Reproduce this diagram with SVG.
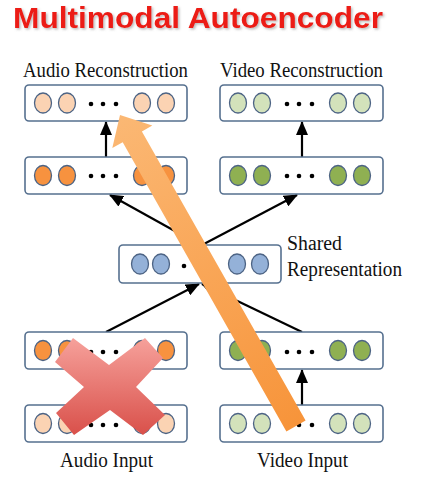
<svg xmlns="http://www.w3.org/2000/svg" width="429" height="487" viewBox="0 0 429 487">
<defs>
<style>
.box{fill:#ffffff;stroke:#56708f;stroke-width:1.6}
.n{stroke:#4c6384;stroke-width:1.3}
.ap{fill:#fbd3b3}
.ah{fill:#f7923f}
.vp{fill:#d3e2bb}
.vh{fill:#8fb052}
.sh{fill:#94b1d8}
.dot{fill:#000}
.lbl{font-family:"Liberation Serif","Times New Roman",serif;font-size:20px;fill:#111}
.edge{stroke:#000;stroke-width:2.2;fill:none;marker-end:url(#ah)}
</style>
<filter id="shadow" x="-5%" y="-30%" width="110%" height="160%">
<feDropShadow dx="1.5" dy="1.5" stdDeviation="1" flood-color="#777" flood-opacity="0.5"/>
</filter>
<marker id="ah" viewBox="0 0 14 12" refX="13" refY="6" markerWidth="14" markerHeight="12" markerUnits="userSpaceOnUse" orient="auto">
<path d="M0,0 L14,6 L0,12 Z" fill="#000"/>
</marker>
<linearGradient id="og" gradientUnits="userSpaceOnUse" x1="120" y1="115" x2="296" y2="426">
<stop offset="0" stop-color="#fbb874"/>
<stop offset="1" stop-color="#f7943a"/>
</linearGradient>
<linearGradient id="rg" x1="0" y1="0" x2="0" y2="1">
<stop offset="0" stop-color="#f6a19b"/>
<stop offset="1" stop-color="#d9504a"/>
</linearGradient>
</defs>
<rect width="429" height="487" fill="#ffffff"/>

<g id="title">
<text x="13" y="28" filter="url(#shadow)" font-family="Liberation Sans, Arial, sans-serif" font-weight="bold" font-size="30" fill="#ec1c12" textLength="370" lengthAdjust="spacingAndGlyphs">Multimodal Autoencoder</text>
</g>

<g id="connectors">
<line class="edge" x1="106" y1="157" x2="106" y2="122"/>
<line class="edge" x1="302" y1="157" x2="302" y2="122"/>
<line class="edge" x1="200" y1="245" x2="110" y2="195"/>
<line class="edge" x1="202" y1="245" x2="297" y2="195"/>
<line class="edge" x1="106" y1="332" x2="199" y2="284"/>
<line class="edge" x1="302" y1="332" x2="202" y2="284"/>
<line class="edge" x1="106" y1="405" x2="106" y2="370"/>
<line class="edge" x1="302" y1="405" x2="302" y2="370"/>
</g>

<g id="audio-reconstruction">
<text class="lbl" x="23" y="77" textLength="165" lengthAdjust="spacingAndGlyphs">Audio Reconstruction</text>
<rect class="box" x="25" y="85" width="162" height="36" rx="4"/>
<ellipse class="n ap" cx="43" cy="103" rx="8.5" ry="10"/>
<ellipse class="n ap" cx="67" cy="103" rx="8.5" ry="10"/>
<circle class="dot" cx="91" cy="104" r="2.3"/><circle class="dot" cx="103" cy="104" r="2.3"/><circle class="dot" cx="116" cy="104" r="2.3"/>
<ellipse class="n ap" cx="142" cy="103" rx="8.5" ry="10"/>
<ellipse class="n ap" cx="166" cy="103" rx="8.5" ry="10"/>
</g>

<g id="video-reconstruction">
<text class="lbl" x="220" y="77" textLength="163" lengthAdjust="spacingAndGlyphs">Video Reconstruction</text>
<rect class="box" x="220" y="85" width="163" height="36" rx="4"/>
<ellipse class="n vp" cx="238" cy="103" rx="8.5" ry="10"/>
<ellipse class="n vp" cx="262" cy="103" rx="8.5" ry="10"/>
<circle class="dot" cx="287" cy="104" r="2.3"/><circle class="dot" cx="299" cy="104" r="2.3"/><circle class="dot" cx="312" cy="104" r="2.3"/>
<ellipse class="n vp" cx="338" cy="103" rx="8.5" ry="10"/>
<ellipse class="n vp" cx="362" cy="103" rx="8.5" ry="10"/>
</g>

<g id="audio-hidden">
<rect class="box" x="25" y="157" width="162" height="37" rx="4"/>
<ellipse class="n ah" cx="43" cy="175.5" rx="8.5" ry="10"/>
<ellipse class="n ah" cx="67" cy="175.5" rx="8.5" ry="10"/>
<circle class="dot" cx="91" cy="176" r="2.3"/><circle class="dot" cx="103" cy="176" r="2.3"/><circle class="dot" cx="116" cy="176" r="2.3"/>
<ellipse class="n ah" cx="142" cy="175.5" rx="8.5" ry="10"/>
<ellipse class="n ah" cx="166" cy="175.5" rx="8.5" ry="10"/>
</g>

<g id="video-hidden">
<rect class="box" x="220" y="157" width="163" height="37" rx="4"/>
<ellipse class="n vh" cx="238" cy="175.5" rx="8.5" ry="10"/>
<ellipse class="n vh" cx="262" cy="175.5" rx="8.5" ry="10"/>
<circle class="dot" cx="287" cy="176" r="2.3"/><circle class="dot" cx="299" cy="176" r="2.3"/><circle class="dot" cx="312" cy="176" r="2.3"/>
<ellipse class="n vh" cx="338" cy="175.5" rx="8.5" ry="10"/>
<ellipse class="n vh" cx="362" cy="175.5" rx="8.5" ry="10"/>
</g>

<g id="shared">
<rect class="box" x="119" y="245" width="162" height="38" rx="4"/>
<ellipse class="n sh" cx="140" cy="264" rx="8.5" ry="10"/>
<ellipse class="n sh" cx="161" cy="264" rx="8.5" ry="10"/>
<circle class="dot" cx="184" cy="266" r="2.3"/><circle class="dot" cx="196" cy="266" r="2.3"/><circle class="dot" cx="209" cy="266" r="2.3"/>
<ellipse class="n sh" cx="237" cy="264" rx="8.5" ry="10"/>
<ellipse class="n sh" cx="260" cy="264" rx="8.5" ry="10"/>
<text class="lbl" x="287" y="250" textLength="55" lengthAdjust="spacingAndGlyphs">Shared</text>
<text class="lbl" x="287" y="276" textLength="115" lengthAdjust="spacingAndGlyphs">Representation</text>
</g>

<g id="audio-hidden-in">
<rect class="box" x="25" y="332" width="162" height="37" rx="4"/>
<ellipse class="n ah" cx="43" cy="350.5" rx="8.5" ry="10"/>
<ellipse class="n ah" cx="67" cy="350.5" rx="8.5" ry="10"/>
<circle class="dot" cx="91" cy="352" r="2.3"/><circle class="dot" cx="103" cy="352" r="2.3"/><circle class="dot" cx="116" cy="352" r="2.3"/>
<ellipse class="n ah" cx="142" cy="350.5" rx="8.5" ry="10"/>
<ellipse class="n ah" cx="166" cy="350.5" rx="8.5" ry="10"/>
</g>

<g id="video-hidden-in">
<rect class="box" x="220" y="332" width="163" height="37" rx="4"/>
<ellipse class="n vh" cx="238" cy="350.5" rx="8.5" ry="10"/>
<ellipse class="n vh" cx="262" cy="350.5" rx="8.5" ry="10"/>
<circle class="dot" cx="287" cy="352" r="2.3"/><circle class="dot" cx="299" cy="352" r="2.3"/><circle class="dot" cx="312" cy="352" r="2.3"/>
<ellipse class="n vh" cx="338" cy="350.5" rx="8.5" ry="10"/>
<ellipse class="n vh" cx="362" cy="350.5" rx="8.5" ry="10"/>
</g>

<g id="audio-input">
<rect class="box" x="25" y="405" width="162" height="37" rx="4"/>
<ellipse class="n ap" cx="43" cy="423.5" rx="8.5" ry="10"/>
<ellipse class="n ap" cx="67" cy="423.5" rx="8.5" ry="10"/>
<circle class="dot" cx="91" cy="425" r="2.3"/><circle class="dot" cx="103" cy="425" r="2.3"/><circle class="dot" cx="116" cy="425" r="2.3"/>
<ellipse class="n ap" cx="142" cy="423.5" rx="8.5" ry="10"/>
<ellipse class="n ap" cx="166" cy="423.5" rx="8.5" ry="10"/>
<text class="lbl" x="60" y="467" textLength="93" lengthAdjust="spacingAndGlyphs">Audio Input</text>
</g>

<g id="video-input">
<rect class="box" x="220" y="405" width="163" height="37" rx="4"/>
<ellipse class="n vp" cx="238" cy="423.5" rx="8.5" ry="10"/>
<ellipse class="n vp" cx="262" cy="423.5" rx="8.5" ry="10"/>
<circle class="dot" cx="287" cy="425" r="2.3"/><circle class="dot" cx="299" cy="425" r="2.3"/><circle class="dot" cx="312" cy="425" r="2.3"/>
<ellipse class="n vp" cx="338" cy="423.5" rx="8.5" ry="10"/>
<ellipse class="n vp" cx="362" cy="423.5" rx="8.5" ry="10"/>
<text class="lbl" x="257" y="467" textLength="91" lengthAdjust="spacingAndGlyphs">Video Input</text>
</g>

<g id="red-cross">
<polygon fill="url(#rg)" points="73,338 109,365 145,338 163,358 136,387 165,415 143,435 110,410 74,435 56,413 84,387 55,362"/>
</g>

<g id="orange-arrow">
<polygon fill="url(#og)" points="120,115 152.3,125.5 141.9,131.4 305.6,420.6 286.4,431.4 122.7,142.2 112.3,148.1"/>
</g>
</svg>
